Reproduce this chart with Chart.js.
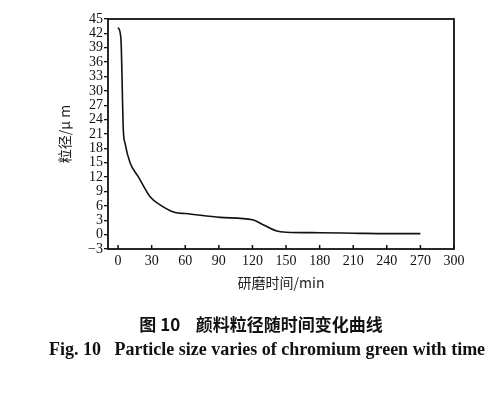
<!DOCTYPE html>
<html lang="zh">
<head>
    <meta charset="UTF-8">
    <title>Particle size vs time</title>
    <script src="https://cdn.jsdelivr.net/npm/chart.js"></script>
    <style>
        body { margin: 0; background: #fff; }
        #wrap { position: relative; width: 502px; height: 394px; }
        #chart { position: absolute; left: 0; top: 0; }
        .cap { position: absolute; left: 0; width: 502px; text-align: center; color: #111; white-space: pre; }
        #capZh { top: 311px; font: bold 17px "Noto Sans CJK SC", "Liberation Serif", serif; left: 10px; }
        #capEn { top: 339px; font: bold 18px "Liberation Serif", serif; left: 16px; }
    </style>
</head>
<body>
<div id="wrap">
    <canvas id="chart" width="502" height="394"></canvas>
    <div class="cap" id="capZh">图 10    颜料粒径随时间变化曲线</div>
    <div class="cap" id="capEn">Fig. 10   Particle size varies of chromium green with time</div>
</div>
<script>
    // values
    var times = [0, 2.5, 4.7, 6.3, 10.7, 18, 28.6, 37.5, 51, 60, 91, 120, 130, 141, 150, 180, 210, 240, 270];
    var sizes = [43.2, 41, 21.8, 19, 15, 12.1, 7.9, 6.2, 4.6, 4.4, 3.6, 3.1, 2.0, 0.8, 0.5, 0.4, 0.3, 0.2, 0.2];
    var xTicks = [0, 30, 60, 90, 120, 150, 180, 210, 240, 270, 300];
    var yTicks = [-3, 0, 3, 6, 9, 12, 15, 18, 21, 24, 27, 30, 33, 36, 39, 42, 45];

    var points = times.map(function(t, i) { return { x: t, y: sizes[i] }; });
    var serif = '"Liberation Serif", serif';

    // box around the plot + inward x ticks
    var frame = {
        id: 'frame',
        afterDraw: function(chart) {
            var a = chart.chartArea, c = chart.ctx, xs = chart.scales.x;
            c.save();
            c.strokeStyle = '#111';
            c.lineWidth = 1.8;
            c.strokeRect(a.left, a.top, a.right - a.left, a.bottom - a.top);
            c.lineWidth = 1.5;
            xTicks.forEach(function(v) {
                var px = xs.getPixelForValue(v);
                c.beginPath();
                c.moveTo(px, a.bottom);
                c.lineTo(px, a.bottom - 4);
                c.stroke();
            });
            c.restore();
        }
    };

    new Chart(document.getElementById('chart'), {
        type: 'line',
        data: {
            datasets: [{
                data: points,
                borderColor: '#111',
                borderWidth: 1.6,
                pointRadius: 0,
                fill: false,
                cubicInterpolationMode: 'monotone'
            }]
        },
        options: {
            responsive: false,
            animation: false,
            layout: { padding: { left: 52, top: 19, right: 48, bottom: 95 } },
            plugins: { legend: { display: false }, tooltip: { enabled: false } },
            scales: {
                x: {
                    type: 'linear',
                    min: -9,
                    max: 300,
                    afterBuildTicks: function(s) { s.ticks = xTicks.map(function(v) { return { value: v }; }); },
                    afterFit: function(s) { s.height = 50; },
                    grid: { display: false, drawTicks: false },
                    border: { display: false },
                    ticks: { color: '#111', font: { family: serif, size: 14 }, padding: 4, maxRotation: 0, autoSkip: false },
                    title: {
                        display: true,
                        text: '研磨时间/min',
                        color: '#222',
                        font: { family: '"Noto Sans CJK SC", ' + serif, size: 14 },
                        padding: { top: 3, bottom: 8 }
                    }
                },
                y: {
                    min: -3,
                    max: 45,
                    afterBuildTicks: function(s) { s.ticks = yTicks.map(function(v) { return { value: v }; }); },
                    afterFit: function(s) { s.width = 56; },
                    grid: { drawOnChartArea: false, drawTicks: true, tickLength: 4, color: '#111', lineWidth: 1.3 },
                    border: { display: false },
                    ticks: {
                        color: '#111',
                        font: { family: serif, size: 14 },
                        padding: 1,
                        autoSkip: false,
                        callback: function(v) { return v < 0 ? '\u2212' + Math.abs(v) : v; }
                    },
                    title: {
                        display: true,
                        text: '粒径/μ m',
                        color: '#222',
                        font: { family: '"Noto Sans CJK SC", ' + serif, size: 14 },
                        padding: { bottom: 4 }
                    }
                }
            }
        },
        plugins: [frame]
    });
</script>
</body>
</html>
